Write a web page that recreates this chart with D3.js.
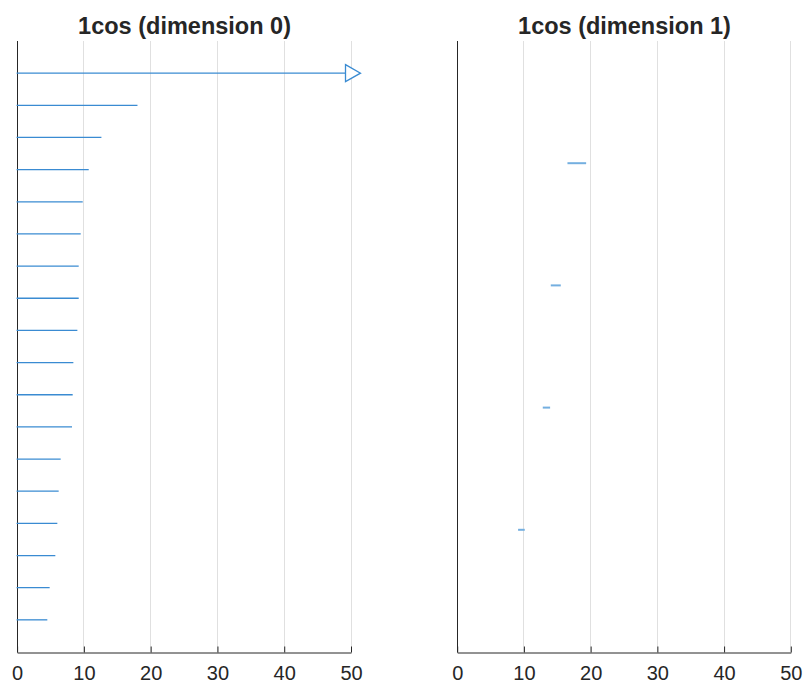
<!DOCTYPE html>
<html>
<head>
<meta charset="utf-8">
<script src="https://cdn.jsdelivr.net/npm/d3@7"></script>
<style>
  html, body { margin: 0; padding: 0; background: #fff; }
  svg { display: block; }
  text { font-family: "Liberation Sans", Arial, Helvetica, sans-serif; fill: #262626; }
</style>
</head>
<body>
<svg id="chart" width="806" height="684"></svg>
<script>
// Panel titles
const titles = ["1cos (dimension 0)", "1cos (dimension 1)"];

// Dimension 0: one stem per component, drawn from 0 to its value
const dim0Components = d3.range(1, 19);
const dim0Values = [64, 18.1, 12.7, 10.8, 9.9, 9.6, 9.3, 9.3, 9.1, 8.5, 8.4, 8.3, 6.6, 6.3, 6.1, 5.8, 4.95, 4.6];

// Dimension 1: short intervals (low .. high) per component
const dim1Components = d3.range(1, 5);
const dim1Low  = [16.6, 14.1, 12.9, 9.2];
const dim1High = [19.4, 15.6, 14.0, 10.2];

// Shared x axis
const xDomain = [0, 50];
const xTicks = [0, 10, 20, 30, 40, 50];

const svg = d3.select("#chart");
const plotTop = 41, plotBottom = 652;
const panels = [
  { left: 16.6, right: 350.5 },
  { left: 456.7, right: 790.3 }
];

const axisColor = "#262626";
const gridColor = "#e0e0e0";
const stemColor = "#3a8bd2";
const rangeColor = "#74afe0";

function drawFrame(p, title) {
  const x = d3.scaleLinear().domain(xDomain).range([p.left, p.right]);
  const g = svg.append("g");

  // vertical grid
  g.selectAll("line.grid").data(xTicks.filter(t => t > 0)).join("line")
    .attr("class", "grid")
    .attr("x1", d => Math.round(x(d)) + 0.5).attr("x2", d => Math.round(x(d)) + 0.5)
    .attr("y1", plotTop).attr("y2", plotBottom)
    .attr("stroke", gridColor).attr("stroke-width", 1);

  // bottom axis (ticks point inward)
  const axis = d3.axisBottom(x).tickValues(xTicks).tickSizeInner(-6).tickSizeOuter(0).tickPadding(13);
  const ag = g.append("g").attr("transform", `translate(0.5,${plotBottom + 0.5})`).call(axis);
  ag.select(".domain").attr("stroke", axisColor);
  ag.selectAll(".tick line").attr("stroke", axisColor);
  ag.selectAll(".tick text")
    .attr("font-size", 20)
    .attr("fill", axisColor)
    .attr("font-family", "'Liberation Sans', Arial, sans-serif");

  // left axis line (no ticks)
  g.append("line")
    .attr("x1", Math.round(p.left) + 0.5).attr("x2", Math.round(p.left) + 0.5)
    .attr("y1", plotTop).attr("y2", plotBottom + 0.5)
    .attr("stroke", axisColor).attr("stroke-width", 1);

  // title
  g.append("text")
    .attr("x", (p.left + p.right) / 2 + 1)
    .attr("y", 34)
    .attr("text-anchor", "middle")
    .attr("font-size", 23.5)
    .attr("font-weight", "bold")
    .attr("fill", "#000")
    .text(title);

  return { x, g };
}

// ---- Panel 0: stems ----
{
  const { x, g } = drawFrame(panels[0], titles[0]);
  const y = d3.scalePoint().domain(dim0Components).range([plotTop, plotBottom]).padding(1);
  const xmax = xDomain[1];
  const data = dim0Components.map((c, i) => ({ c, v: dim0Values[i] }));

  g.selectAll("line.stem").data(data).join("line")
    .attr("class", "stem")
    .attr("x1", x(0))
    .attr("x2", d => d.v > xmax ? x(xmax) - 5 : x(d.v))
    .attr("y1", d => y(d.c)).attr("y2", d => y(d.c))
    .attr("stroke", stemColor).attr("stroke-width", 1.3);

  // values beyond the axis limit get an open arrowhead at the edge
  const over = data.filter(d => d.v > xmax);
  g.selectAll("path.clip-arrow").data(over).join("path")
    .attr("class", "clip-arrow")
    .attr("d", d => {
      const bx = x(xmax) - 5, cy = y(d.c);
      return `M${bx},${cy - 8.5} L${bx + 15},${cy} L${bx},${cy + 8.5} Z`;
    })
    .attr("fill", "#fff")
    .attr("stroke", stemColor).attr("stroke-width", 1.3)
    .attr("stroke-linejoin", "miter");
}

// ---- Panel 1: intervals ----
{
  const { x, g } = drawFrame(panels[1], titles[1]);
  const y = d3.scalePoint().domain(dim1Components).range([plotTop, plotBottom]).padding(1);
  const data = dim1Components.map((c, i) => ({ c, lo: dim1Low[i], hi: dim1High[i] }));

  g.selectAll("line.range").data(data).join("line")
    .attr("class", "range")
    .attr("x1", d => x(d.lo)).attr("x2", d => x(d.hi))
    .attr("y1", d => y(d.c)).attr("y2", d => y(d.c))
    .attr("stroke", rangeColor).attr("stroke-width", 2);
}
</script>
</body>
</html>
